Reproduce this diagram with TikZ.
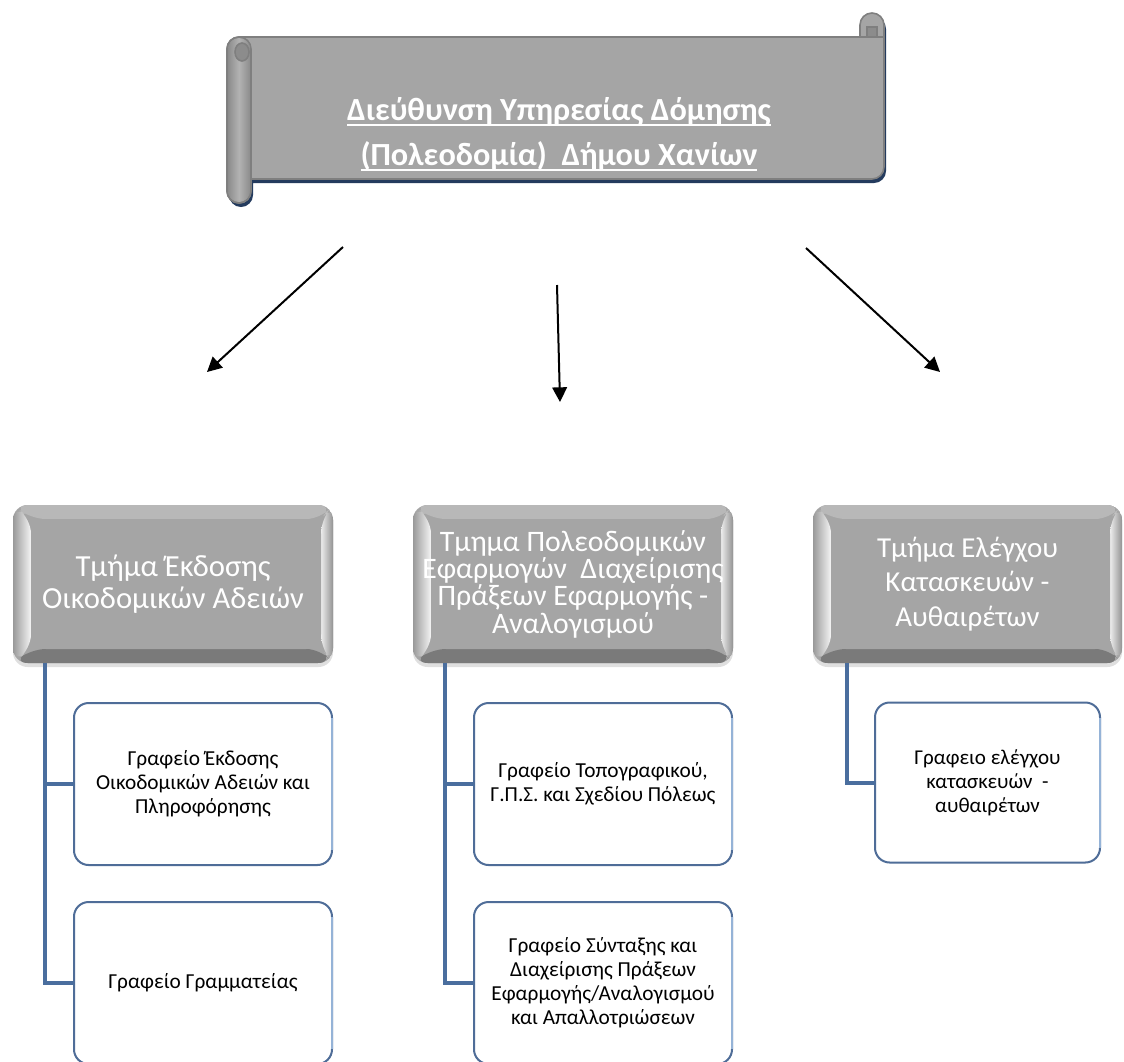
\documentclass[tikz,border=0pt]{standalone}
\usepackage{fontspec}
\setmainfont{Carlito}
\usetikzlibrary{arrows.meta,calc,shadows}

\definecolor{bannergray}{HTML}{A5A5A5}
\definecolor{bannerline}{HTML}{7F7F7F}
\definecolor{curldark}{HTML}{8C8C8C}
\definecolor{shadownavy}{HTML}{243B5E}
\definecolor{connblue}{HTML}{4A6E9E}
\definecolor{childdark}{HTML}{4F6D98}
\definecolor{childlight}{HTML}{95B3D7}
\definecolor{bevtop}{HTML}{B8B8B8}
\definecolor{bevbot}{HTML}{7A7A7A}
\definecolor{bevmid}{HTML}{A5A5A5}

\newsavebox\ulbox
\newcommand{\myul}[1]{\sbox\ulbox{#1}\rlap{\rule[-4pt]{\wd\ulbox}{1.5pt}}\usebox\ulbox}

\tikzset{
  lvtwo/.style={rounded corners=11pt, minimum height=118.5pt, minimum width=240pt,
    text=white, align=center, inner sep=0pt, outer sep=0pt,
    drop shadow={shadow xshift=0pt, shadow yshift=-3pt, opacity=0.25},
    path picture={
      \coordinate (pNW) at (path picture bounding box.north west);
      \coordinate (pSE) at (path picture bounding box.south east);
      \coordinate (pNE) at (path picture bounding box.north east);
      \coordinate (pSW) at (path picture bounding box.south west);
      \coordinate (iNW) at ($(pNW)+(18,14)$);
      \coordinate (iSE) at ($(pSE)+(-12,-14)$);
      \coordinate (iNE) at ($(pNE)+(-12,14)$);
      \coordinate (iSW) at ($(pSW)+(18,-14)$);
      \fill[bevmid] (pNW) rectangle (pSE);
      \fill[bevtop] (pNW) -- (pNE) -- (iNE) -- (iNW) -- cycle;
      \fill[bevbot] (pSW) -- (pSE) -- (iSE) -- (iSW) -- cycle;
      \shade[left color=gray!80, right color=white!92!gray] (pNW) -- (iNW) -- (iSW) -- (pSW) -- cycle;
      \shade[left color=white!85!gray, right color=gray!85] (pNE) -- (iNE) -- (iSE) -- (pSE) -- cycle;
      \fill[bevmid] (iNW) rectangle (iSE);
    }},
  officebox/.style={draw=childdark, line width=1.5pt, fill=white, rounded corners=11pt,
    align=center, inner sep=0pt, outer sep=0pt, minimum width=193.5pt, minimum height=121.5pt,
    font=\fontsize{16}{18}\selectfont},
  conn/.style={draw=connblue, line width=3pt},
  arr/.style={draw=black, line width=1.5pt, -{Triangle[length=11pt,width=11pt]}},
  scrollline/.style={draw=bannerline, line width=1.2pt},
  titletext/.style={font=\bfseries\fontsize{24.2}{30}\selectfont, text=white, anchor=base, inner sep=0pt},
}

\begin{document}
\begin{tikzpicture}[x=0.75pt, y=-0.75pt]
\useasboundingbox (0,0) rectangle (1124,1061);
\fill[white] (0,0) rectangle (1124,1061);

% ---- scroll banner (l=227, r=884, t=13, b=203, roll=24) ----
\begin{scope}[shift={(2,4)}]
\fill[shadownavy] (239,37) -- (860,37) -- (860,25) arc[start angle=180,end angle=360,radius=12]
  -- (884,167) arc[start angle=0,end angle=90,radius=12] -- (251,179) -- (251,191)
  arc[start angle=0,end angle=180,radius=12] -- (227,49) arc[start angle=180,end angle=270,radius=12] -- cycle;
\end{scope}
\filldraw[fill=bannergray, scrollline] (239,37) -- (860,37) -- (860,25) arc[start angle=180,end angle=360,radius=12]
  -- (884,167) arc[start angle=0,end angle=90,radius=12] -- (251,179) -- (251,191)
  arc[start angle=0,end angle=180,radius=12] -- (227,49) arc[start angle=180,end angle=270,radius=12] -- cycle;
% left roll
\shade[left color=gray!90, right color=gray!90, middle color=gray!60]
  (228,49) arc[start angle=180,end angle=360,radius=11] -- (250,191) arc[start angle=0,end angle=180,radius=11] -- cycle;
\draw[scrollline] (227,49) arc[start angle=180,end angle=360,radius=12] -- (251,191)
  arc[start angle=0,end angle=180,radius=12] -- cycle;
\filldraw[fill=curldark, scrollline] (242,52) ellipse[x radius=7, y radius=9];
% right roll
\draw[scrollline] (860,37) -- (884,37);
\filldraw[fill=curldark, scrollline] (867,27) rectangle (877,37);

\node[titletext] (title1) at (559,120.5) {\myul{Διεύθυνση Υπηρεσίας Δόμησης}};
\node[titletext] (title2) at (559,165.5) {\myul{(Πολεοδομία)\ \ Δήμου Χανίων}};

% ---- arrows ----
\coordinate (a1s) at (343,247); \coordinate (a1e) at (207,372);
\coordinate (a2s) at (557,285); \coordinate (a2e) at (560,402);
\coordinate (a3s) at (806,248); \coordinate (a3e) at (940,372);
\draw[arr] (a1s) -- (a1e);
\draw[arr] (a2s) -- (a2e);
\draw[arr] (a3s) -- (a3e);

% ---- level two ----
\node[lvtwo, font=\fontsize{23}{24}\selectfont] (t1) at (173,584) {Τμήμα Έκδοσης\\Οικοδομικών Αδειών};
\node[lvtwo, font=\fontsize{22.3}{20.5}\selectfont] (t2) at (573,584) {Τμημα Πολεοδομικών\\Εφαρμογών\ \ Διαχείρισης\\Πράξεων Εφαρμογής -\\Αναλογισμού};
\node[lvtwo, minimum width=231.75pt, font=\fontsize{21.7}{26}\selectfont] (t3) at (967.5,584) {Τμήμα Ελέγχου\\Κατασκευών -\\Αυθαιρέτων};

% ---- offices ----
\node[officebox] (c1a) at (203,784) {Γραφείο Έκδοσης\\Οικοδομικών Αδειών και\\Πληροφόρησης};
\node[officebox] (c1b) at (203,983) {Γραφείο Γραμματείας};
\node[officebox] (c2a) at (603,784) {Γραφείο Τοπογραφικού,\\Γ.Π.Σ. και Σχεδίου Πόλεως};
\node[officebox] (c2b) at (603,983) {Γραφείο Σύνταξης και\\Διαχείρισης Πράξεων\\Εφαρμογής/Αναλογισμού\\και Απαλλοτριώσεων};
\node[officebox, minimum width=168.75pt, minimum height=120pt, font=\fontsize{15.8}{18}\selectfont] (c3a) at (987.5,782.5) {Γραφειο ελέγχου\\κατασκευών\ \ -\\αυθαιρέτων};

\foreach \n in {c1a,c1b,c2a,c2b,c3a}{
  \draw[childlight, line width=1.5pt] ($(\n.north east)+(0,15)$) -- ($(\n.south east)+(0,-15)$);
}

% ---- connectors ----
\coordinate (x1) at (45,0);
\coordinate (x2) at (445,0);
\coordinate (x3) at (847,0);
\draw[conn] (t1.south -| x1) |- (c1a.west);
\draw[conn] (t1.south -| x1) |- (c1b.west);
\draw[conn] (t2.south -| x2) |- (c2a.west);
\draw[conn] (t2.south -| x2) |- (c2b.west);
\draw[conn] (t3.south -| x3) |- (c3a.west);
\end{tikzpicture}
\end{document}
